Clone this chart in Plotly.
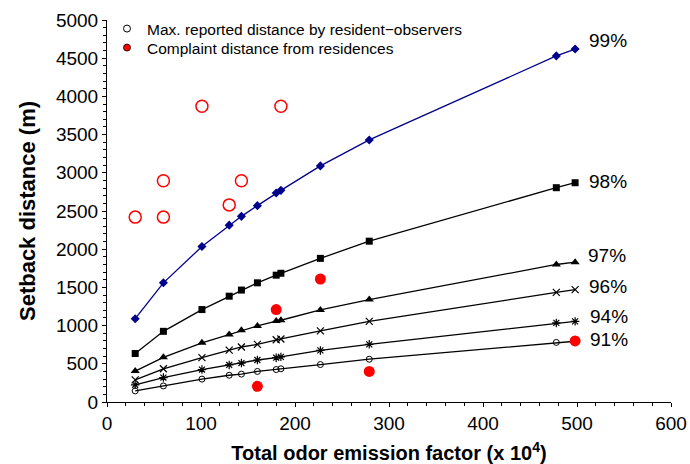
import plotly.graph_objects as go

# ---- data ----
x_vals = [30, 60, 101, 130, 143, 160, 180, 185, 227, 279, 478, 498]
p99 = [1090, 1560, 2035, 2315, 2430, 2570, 2735, 2770, 3090, 3430, 4530, 4620]
p98 = [635, 925, 1210, 1385, 1465, 1560, 1660, 1685, 1880, 2105, 2805, 2870]
p97 = [405, 585, 775, 885, 940, 995, 1060, 1070, 1205, 1340, 1800, 1830]
p96 = [290, 435, 580, 680, 720, 755, 815, 825, 930, 1055, 1435, 1470]
p94 = [225, 320, 425, 485, 510, 550, 580, 590, 675, 755, 1035, 1055]
p91 = [145, 210, 300, 350, 365, 400, 425, 435, 490, 560, 780, 795]

observer_x = [30, 60, 60, 101, 130, 143, 185]
observer_y = [2420, 2420, 2895, 3870, 2580, 2895, 3870]

complaint_x = [160, 180, 227, 279, 498]
complaint_y = [205, 1210, 1610, 400, 800]

series_labels = ["99%", "98%", "97%", "96%", "94%", "91%"]
legend_labels = ["Max. reported distance by resident\u2212observers",
                 "Complaint distance from residences"]

FONT = "Arial, Liberation Sans, Helvetica, sans-serif"

fig = go.Figure()

line_specs = [
    (p99, "#00008B", "diamond", 7, 0),
    (p98, "black", "square", 7, 0),
    (p97, "black", "triangle-up", 8, 0),
    (p96, "black", "x-thin-open", 7, 1.2),
    (p94, "black", "asterisk-open", 7, 1.2),
    (p91, "black", "circle-open", 6, 1),
]
for ys, col, sym, sz, lw in line_specs:
    fig.add_trace(go.Scatter(
        x=x_vals, y=ys, mode="lines+markers",
        line=dict(color=col, width=1.3),
        marker=dict(symbol=sym, size=sz, color=col,
                    line=dict(color=col, width=lw)),
        showlegend=False, hoverinfo="skip"))

# resident-observer maxima (open red circles)
fig.add_trace(go.Scatter(
    x=observer_x, y=observer_y, mode="markers",
    marker=dict(symbol="circle-open", size=12, color="#FF0000",
                line=dict(color="#FF0000", width=1.5)),
    showlegend=False))

# complaint distances (filled red dots)
fig.add_trace(go.Scatter(
    x=complaint_x, y=complaint_y, mode="markers",
    marker=dict(symbol="circle", size=11, color="#FF0000",
                line=dict(color="#FF0000", width=0)),
    showlegend=False))

# legend entries
fig.add_trace(go.Scatter(
    x=[None], y=[None], mode="markers", name=legend_labels[0],
    marker=dict(symbol="circle-open", size=7, color="black",
                line=dict(color="black", width=1)),
    legend="legend"))
fig.add_trace(go.Scatter(
    x=[None], y=[None], mode="markers", name=legend_labels[1],
    marker=dict(symbol="circle", size=7, color="#FF0000",
                line=dict(color="black", width=0.8)),
    legend="legend2"))

# percentage labels at line ends
label_pos = [(511, 4734), (511, 2881), (510, 1915), (511, 1517), (512, 1115), (512, 822)]
for txt, (lx, ly) in zip(series_labels, label_pos):
    fig.add_annotation(x=lx, y=ly, xref="x", yref="y", text=txt,
                       showarrow=False, xanchor="left", yanchor="middle",
                       font=dict(family=FONT, size=19, color="black"))

axis_common = dict(
    showgrid=False, zeroline=False, showline=True, linecolor="black",
    linewidth=1, ticks="outside", ticklen=4, tickcolor="black",
    tickfont=dict(family=FONT, size=19, color="black"), automargin=False,
)

fig.update_xaxes(range=[0, 600], dtick=100, tick0=0,
                 minor=dict(dtick=20, ticks="outside", ticklen=3, tickcolor="black"),
                 title=dict(text="<b>Total odor emission factor (x 10<sup>4</sup>)</b>",
                            font=dict(family=FONT, size=20, color="black"), standoff=14),
                 **axis_common)
fig.update_yaxes(range=[0, 5000], dtick=500, tick0=0,
                 minor=dict(dtick=100, ticks="outside", ticklen=3, tickcolor="black"),
                 title=dict(text="<b>Setback distance (m)</b>",
                            font=dict(family=FONT, size=22, color="black"), standoff=14),
                 **axis_common)

leg_common = dict(font=dict(family=FONT, size=15.5, color="black"),
                  bgcolor="rgba(0,0,0,0)", borderwidth=0,
                  xanchor="left", yanchor="middle", itemwidth=30)

fig.update_layout(
    width=690, height=464,
    margin=dict(l=107, r=19, t=20, b=62),
    plot_bgcolor="white", paper_bgcolor="white",
    font=dict(family=FONT, color="black"),
    legend=dict(x=0.0, y=1 - (29 - 20) / 382, **leg_common),
    legend2=dict(x=0.0, y=1 - (48 - 20) / 382, **leg_common),
)

fig.write_html("out.html", config={"displayModeBar": False},
               post_script="document.body.style.margin='0';")
